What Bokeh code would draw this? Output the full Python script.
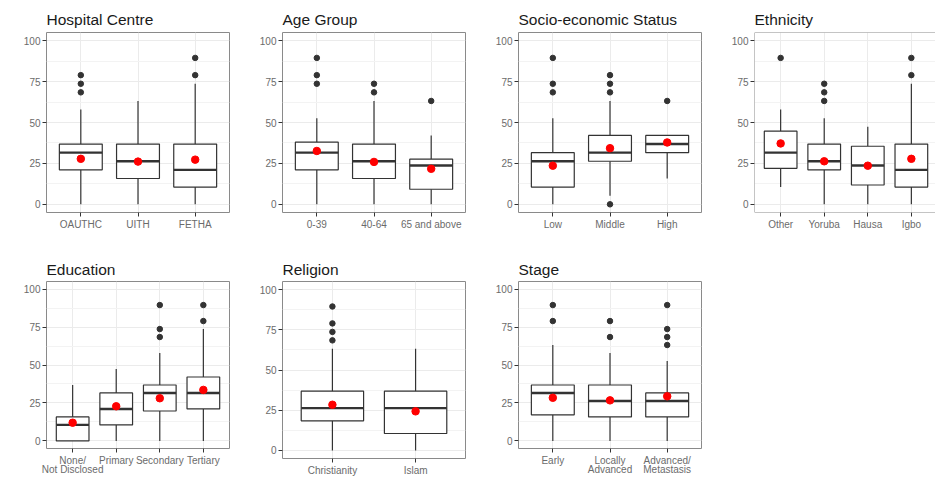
from bokeh.plotting import figure
from bokeh.layouts import row, column
from bokeh.models import Range1d, FixedTicker, Span
from bokeh.embed import file_html
from bokeh.resources import INLINE

# ---------------- data ----------------
hosp_cats = ["OAUTHC", "UITH", "FETHA"]
hosp_q1 = [21.05, 15.79, 10.53]
hosp_med = [31.58, 26.32, 21.05]
hosp_q3 = [36.84, 36.84, 36.84]
hosp_lo = [0, 0, 0]
hosp_hi = [57.89, 63.16, 73.68]
hosp_mean = [27.8, 26.1, 27.3]
hosp_out = [[68.42, 73.68, 78.95], [], [78.95, 89.47]]

age_cats = ["0-39", "40-64", "65 and above"]
age_q1 = [21.05, 15.79, 9.2]
age_med = [31.58, 26.32, 23.7]
age_q3 = [38.0, 36.84, 27.6]
age_lo = [0, 0, 0]
age_hi = [52.63, 63.16, 42.11]
age_mean = [32.6, 25.9, 21.7]
age_out = [[73.68, 78.95, 89.47], [68.42, 73.68], [63.16]]

ses_cats = ["Low", "Middle", "High"]
ses_q1 = [10.53, 26.32, 31.58]
ses_med = [26.32, 31.58, 36.84]
ses_q3 = [31.58, 42.11, 42.11]
ses_lo = [0, 5.26, 15.79]
ses_hi = [52.63, 63.16, 42.11]
ses_mean = [23.6, 34.3, 37.8]
ses_out = [[68.42, 73.68, 89.47], [0, 68.42, 73.68, 78.95], [63.16]]

eth_cats = ["Other", "Yoruba", "Hausa", "Igbo"]
eth_q1 = [22.0, 21.05, 11.8, 10.53]
eth_med = [31.58, 26.32, 23.68, 21.05]
eth_q3 = [44.7, 36.84, 35.5, 36.84]
eth_lo = [10.53, 0, 0, 0]
eth_hi = [57.89, 52.63, 47.37, 73.68]
eth_mean = [37.2, 26.3, 23.6, 27.8]
eth_out = [[89.47], [63.16, 68.42, 73.68], [], [78.95, 89.47]]

edu_cats = ["None/\nNot Disclosed", "Primary", "Secondary", "Tertiary"]
edu_q1 = [0, 10.53, 19.7, 21.05]
edu_med = [10.53, 21.05, 31.58, 31.58]
edu_q3 = [15.79, 31.58, 36.84, 42.11]
edu_lo = [0, 0, 0, 0]
edu_hi = [36.84, 47.37, 57.89, 73.68]
edu_mean = [12.0, 22.8, 28.1, 33.6]
edu_out = [[], [], [68.42, 73.68, 89.47], [78.95, 89.47]]

rel_cats = ["Christianity", "Islam"]
rel_q1 = [18.4, 10.53]
rel_med = [26.32, 26.32]
rel_q3 = [36.84, 36.84]
rel_lo = [0, 0]
rel_hi = [63.16, 63.16]
rel_mean = [28.4, 24.3]
rel_out = [[68.42, 73.68, 78.95, 89.47], []]

stage_cats = ["Early", "Locally\nAdvanced", "Advanced/\nMetastasis"]
stage_q1 = [17.2, 15.79, 15.79]
stage_med = [31.58, 26.32, 26.32]
stage_q3 = [36.84, 36.84, 31.58]
stage_lo = [0, 0, 0]
stage_hi = [63.16, 57.89, 52.63]
stage_mean = [28.4, 26.7, 29.4]
stage_out = [[78.95, 89.47], [68.42, 78.95], [63.16, 68.42, 73.68, 89.47]]

y_ticks = [0, 25, 50, 75, 100]
y_minor = [12.5, 37.5, 62.5, 87.5]

# ---------------- styling ----------------
FONT = "Liberation Sans"
BOX_COL = "#333333"
BORDER_COL = "#8a8a8a"
GRID_COL = "#EBEBEB"
MINOR_COL = "#F3F3F3"
TICKLAB_COL = "#6b6b6b"
BOXW = 0.75
FULL_FRAME_W = 183.0


def panel(title, cats, q1, med, q3, lo, hi, mean, out,
          width, height, mbl, mbr, mbt, mbb, title_standoff,
          cut=False, frame_w=183):
    n = len(cats)
    xs = list(range(1, n + 1))
    x_start = 0.4
    x_end = n + 0.6
    if cut:
        x_end = x_start + (n + 0.2) * frame_w / FULL_FRAME_W
    p = figure(width=width, height=height, output_backend="svg",
               toolbar_location=None, tools="",
               x_range=Range1d(x_start, x_end), y_range=Range1d(-5, 105),
               min_border_left=mbl, min_border_right=mbr,
               min_border_top=mbt, min_border_bottom=mbb)
    p.background_fill_color = "white"
    p.border_fill_color = "white"
    if cut:
        p.outline_line_color = None
        for loc in (-5, 105):
            p.add_layout(Span(location=loc, dimension="width",
                              line_color=BORDER_COL, line_width=1))
        p.add_layout(Span(location=x_start, dimension="height",
                          line_color=BORDER_COL, line_width=1))
    else:
        p.outline_line_color = BORDER_COL
        p.outline_line_width = 1

    p.title.text = title
    p.title.text_font = FONT
    p.title.text_font_size = "15.5px"
    p.title.text_font_style = "normal"
    p.title.text_color = "#1a1a1a"
    p.title.align = "left"
    p.title.offset = 0
    p.title.standoff = title_standoff

    # axes
    p.yaxis.ticker = FixedTicker(ticks=y_ticks, minor_ticks=y_minor)
    p.xaxis.ticker = FixedTicker(ticks=xs)
    p.xaxis.major_label_overrides = {x: c for x, c in zip(xs, cats)}
    for ax in (p.xaxis, p.yaxis):
        ax.axis_line_color = None
        ax.minor_tick_line_color = None
        ax.major_tick_line_color = BOX_COL
        ax.major_tick_out = 4
        ax.major_tick_in = 0
        ax.major_label_standoff = 2
        ax.major_label_text_font = FONT
        ax.major_label_text_font_size = "10px"
        ax.major_label_text_color = TICKLAB_COL
        ax.major_label_text_line_height = 0.87

    # grid
    p.xgrid.ticker = FixedTicker(ticks=xs)
    p.xgrid.grid_line_color = GRID_COL
    p.ygrid.ticker = FixedTicker(ticks=y_ticks, minor_ticks=y_minor)
    p.ygrid.grid_line_color = GRID_COL
    p.ygrid.minor_grid_line_color = MINOR_COL

    # whiskers
    p.segment(x0=xs, y0=q3, x1=xs, y1=hi, line_color=BOX_COL, line_width=1.2)
    p.segment(x0=xs, y0=lo, x1=xs, y1=q1, line_color=BOX_COL, line_width=1.2)
    # boxes
    p.vbar(x=xs, width=BOXW, bottom=q1, top=q3, fill_color="white",
           line_color=BOX_COL, line_width=1.2)
    # medians
    p.segment(x0=[x - BOXW / 2 for x in xs], y0=med,
              x1=[x + BOXW / 2 for x in xs], y1=med,
              line_color=BOX_COL, line_width=2.4)
    # outliers
    ox, oy = [], []
    for x, vals in zip(xs, out):
        for v in vals:
            ox.append(x)
            oy.append(v)
    if ox:
        p.scatter(x=ox, y=oy, size=5.5, fill_color="#333333",
                  line_color="#333333")
    # means
    p.scatter(x=xs, y=mean, size=7.5, fill_color="#FF0000",
              line_color="#FF0000")
    return p


# column widths / borders (frame lefts at 46, 282, 518, 754; frame width 183)
W = [244, 237, 236]
MBL = [46, 38, 37]
MBR = [15, 16, 16]
H1, H2 = 254, 224

f1 = panel("Hospital Centre", hosp_cats, hosp_q1, hosp_med, hosp_q3, hosp_lo,
           hosp_hi, hosp_mean, hosp_out, W[0], H1, MBL[0], MBR[0], 32, 42, 10)
f2 = panel("Age Group", age_cats, age_q1, age_med, age_q3, age_lo,
           age_hi, age_mean, age_out, W[1], H1, MBL[1], MBR[1], 32, 42, 10)
f3 = panel("Socio-economic Status", ses_cats, ses_q1, ses_med, ses_q3, ses_lo,
           ses_hi, ses_mean, ses_out, W[2], H1, MBL[2], MBR[2], 32, 42, 10)
f4 = panel("Ethnicity", eth_cats, eth_q1, eth_med, eth_q3, eth_lo,
           eth_hi, eth_mean, eth_out, 218, H1, 37, 0, 32, 42, 10,
           cut=True, frame_w=181)

f5 = panel("Education", edu_cats, edu_q1, edu_med, edu_q3, edu_lo,
           edu_hi, edu_mean, edu_out, W[0], H2, MBL[0], MBR[0], 24, 29, 8)
f6 = panel("Religion", rel_cats, rel_q1, rel_med, rel_q3, rel_lo,
           rel_hi, rel_mean, rel_out, W[1], H2, MBL[1], MBR[1], 24, 18, 8)
f7 = panel("Stage", stage_cats, stage_q1, stage_med, stage_q3, stage_lo,
           stage_hi, stage_mean, stage_out, W[2], H2, MBL[2], MBR[2], 24, 29, 8)

layout = column(row(column(f1), column(f2), column(f3), column(f4)),
                row(column(f5), column(f6), column(f7)))

open("out.html", "w").write(file_html(layout, INLINE))
